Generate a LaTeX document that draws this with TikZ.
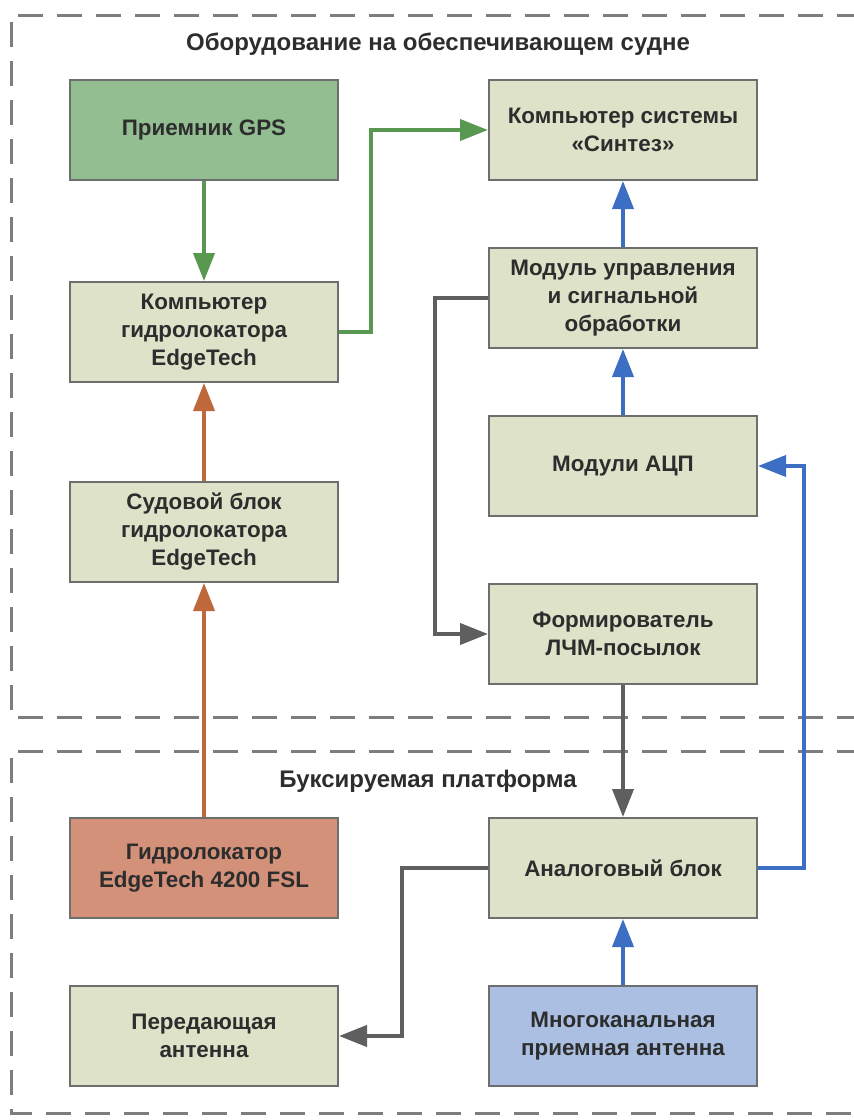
\documentclass[tikz,border=0pt]{standalone}
\usepackage{fontspec}
\setmainfont{Liberation Sans}
\usetikzlibrary{arrows.meta}
\definecolor{boxfill}{RGB}{221,226,200}
\definecolor{gpsfill}{RGB}{146,190,146}
\definecolor{sonarfill}{RGB}{212,145,122}
\definecolor{rxfill}{RGB}{170,191,225}
\definecolor{boxline}{RGB}{110,110,110}
\definecolor{arrgreen}{RGB}{88,152,80}
\definecolor{arrorange}{RGB}{190,104,60}
\definecolor{arrblue}{RGB}{60,110,195}
\definecolor{arrgray}{RGB}{95,95,95}
\definecolor{txtcol}{RGB}{45,45,45}

\begin{document}
\begin{tikzpicture}[x=1pt,y=-1pt,
  block/.style={draw=boxline,line width=2pt,fill=boxfill,minimum width=268pt,minimum height=100pt,
    inner sep=0pt,align=center,text=txtcol,font=\fontsize{22.4}{28}\selectfont\bfseries},
  region/.style={draw=boxline!90,line width=3pt,dash pattern=on 25pt off 14pt},
  title/.style={text=txtcol,font=\fontsize{24}{28}\selectfont\bfseries},
  link/.style={line width=4pt,-{Triangle[length=28pt,width=21pt]}}]
\useasboundingbox (0,0) rectangle (854,1120);
% areas
\draw[region] (862,15) -- (11,15) -- (11,717) -- (862,717);
\draw[region] (862,751) -- (11,751) -- (11,1113) -- (862,1113);
\node (shiptitle) [title] at (438,44) {Оборудование на обеспечивающем судне};
\node (towtitle) [title] at (428,781) {Буксируемая платформа};
% left column
\node (gps) [block,fill=gpsfill] at (204,130) {Приемник GPS};
\node (pccomp) [block] at (204,332) {Компьютер\\гидролокатора\\EdgeTech};
\node (shipunit) [block] at (204,532) {Судовой блок\\гидролокатора\\EdgeTech};
\node (sonar) [block,fill=sonarfill] at (204,868) {Гидролокатор\\EdgeTech 4200 FSL};
\node (txant) [block] at (204,1036) {Передающая\\антенна};
% right column
\node (synt) [block] at (623,130) {Компьютер системы\\«Синтез»};
\node (ctrl) [block] at (623,298) {Модуль управления\\и сигнальной\\обработки};
\node (adc) [block] at (623,466) {Модули АЦП};
\node (chirp) [block] at (623,634) {Формирователь\\ЛЧМ-посылок};
\node (analog) [block] at (623,868) {Аналоговый блок};
\node (rxant) [block,fill=rxfill] at (623,1036) {Многоканальная\\приемная антенна};
% links
\draw[link,arrgreen] (gps) -- (pccomp);
\draw[link,arrgreen] (pccomp.east) -- ++(32,0) |- (synt.west);
\draw[link,arrorange] (sonar) -- (shipunit);
\draw[link,arrorange] (shipunit) -- (pccomp);
\draw[link,arrblue] (ctrl) -- (synt);
\draw[link,arrblue] (adc) -- (ctrl);
\draw[link,arrblue] (rxant) -- (analog);
\draw[link,arrblue] (analog.east) -- ++(46,0) |- (adc.east);
\draw[link,arrgray] (ctrl.west) -- ++(-53,0) |- (chirp.west);
\draw[link,arrgray] (chirp) -- (analog);
\draw[link,arrgray] (analog.west) -- ++(-86,0) |- (txant.east);
\end{tikzpicture}
\end{document}
